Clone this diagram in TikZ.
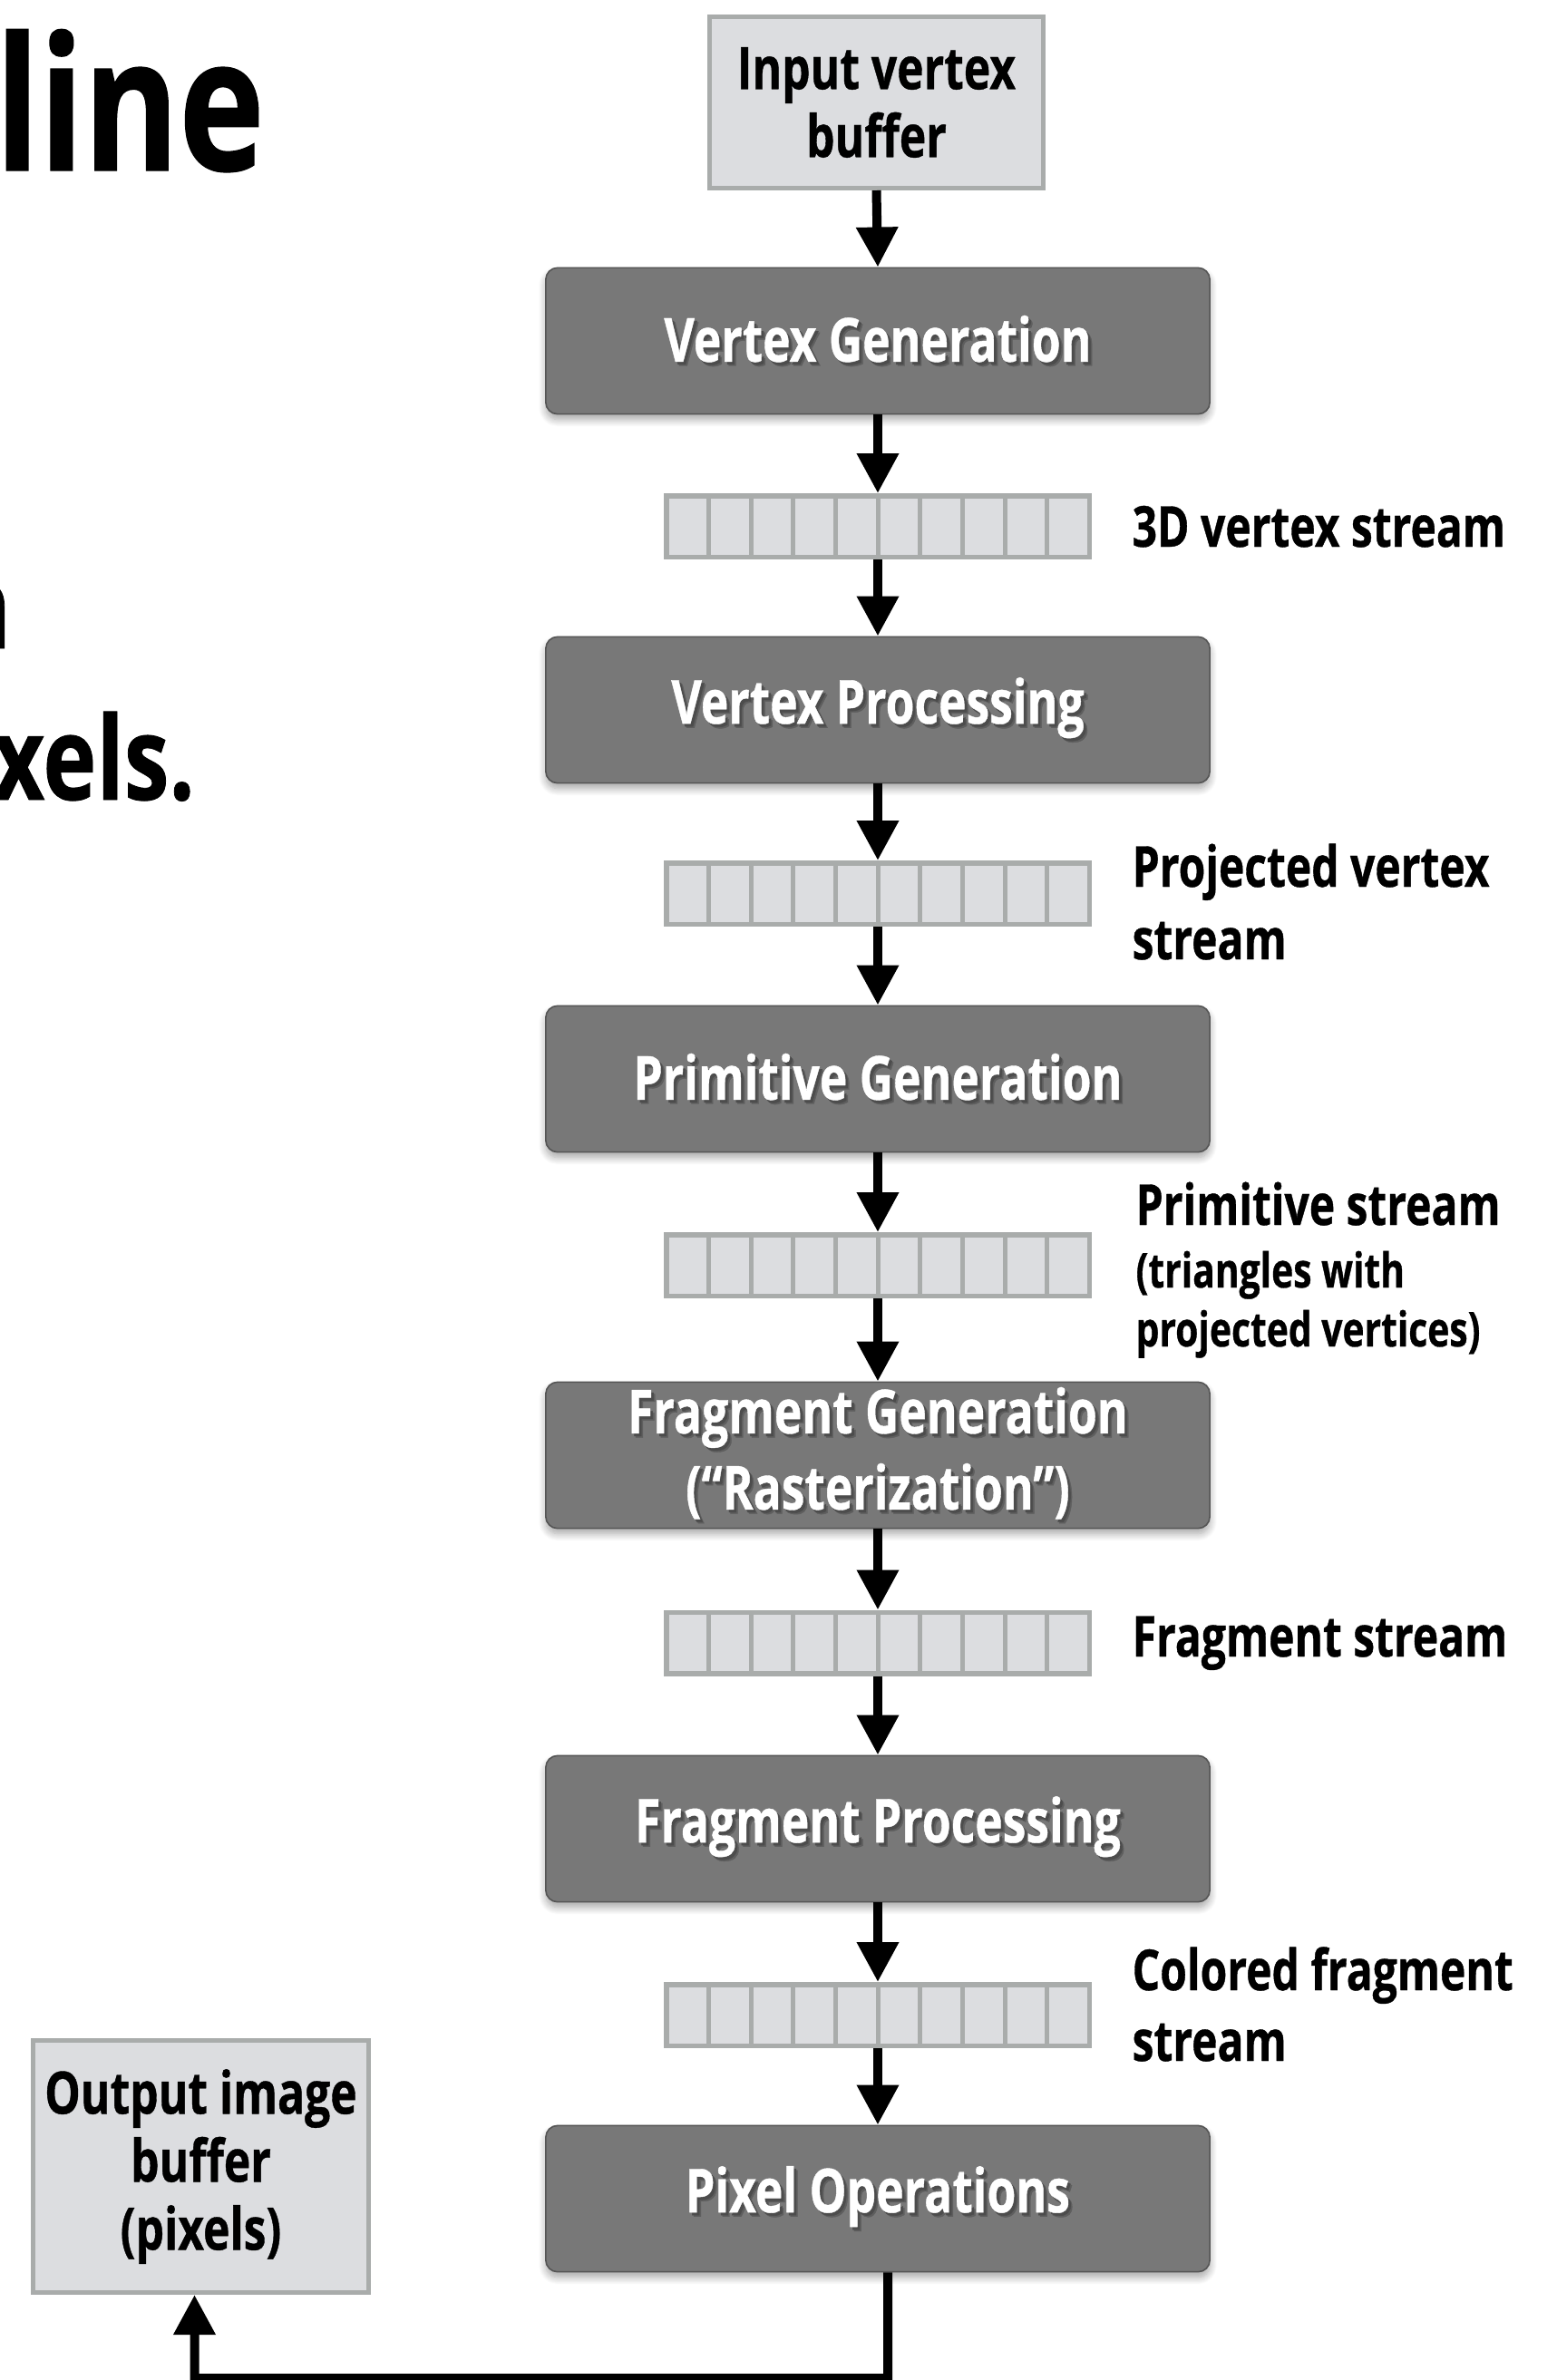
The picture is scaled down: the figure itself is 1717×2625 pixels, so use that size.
\documentclass[tikz,border=0pt]{standalone}
\usepackage{fontspec}
\setmainfont{Open Sans}[FakeStretch=0.77, BoldFeatures={FakeBold=0.6}]
\newfontfamily\bigfont{Open Sans}[FakeStretch=0.78, BoldFeatures={FakeBold=0.6}]
\usetikzlibrary{arrows.meta,shadows.blur,calc}

% one drawing unit = one pixel of the slide
\newlength\pxu
\setlength\pxu{0.3pt}

\definecolor{stagefill}{HTML}{787878}
\definecolor{stageedge}{HTML}{555555}
\definecolor{buffill}{HTML}{DCDDE0}
\definecolor{bufedge}{HTML}{A9ACAB}
\definecolor{txtshadowA}{HTML}{5E5E5E}
\definecolor{txtshadowB}{HTML}{4C4C4C}

% white stage titles sit on a soft dark drop shadow
\newcommand\shadowed[1]{%
  \makebox[0pt][l]{\hspace{1.3pt}\raisebox{-1.4pt}{\textcolor{txtshadowA}{#1}}}%
  \makebox[0pt][l]{\hspace{0.8pt}\raisebox{-0.9pt}{\textcolor{txtshadowB}{#1}}}%
  #1}

\newcommand\titlefont{\fontsize{20.1pt}{25.2pt}\selectfont\bfseries}
\newcommand\boxfont{\fontsize{19.4pt}{22.5pt}\selectfont\bfseries}
\newcommand\labelfont{\fontsize{18.7pt}{24pt}\selectfont\bfseries}
\newcommand\sublabelfont{\fontsize{15.9pt}{20pt}\selectfont\bfseries}

\begin{document}
\begin{tikzpicture}[x=\pxu, y=-\pxu,
  stage/.style={rectangle, rounded corners=3.9pt, fill=stagefill, draw=stageedge,
    line width=0.48pt, minimum width=219.7pt, minimum height=48.4pt, inner sep=0pt,
    text=white, font=\titlefont, align=center,
    blur shadow={shadow xshift=0pt, shadow yshift=-1.8pt, shadow blur radius=2.4pt,
      shadow blur steps=10, shadow opacity=35}},
  stream/.style={rectangle, fill=buffill, draw=bufedge, line width=1.65pt,
    minimum width=139.95pt, minimum height=20.25pt, inner sep=0pt,
    path picture={\foreach \k in {1,...,9}
      \draw[bufedge, line width=1.5pt]
        ([xshift=\k*14pt]path picture bounding box.north west) --
        ([xshift=\k*14pt]path picture bounding box.south west);}},
  bufbox/.style={rectangle, fill=buffill, draw=bufedge, line width=1.5pt,
    inner sep=0pt, font=\boxfont, align=center},
  label/.style={anchor=base west, inner sep=0pt, font=\labelfont},
  sublabel/.style={anchor=base west, inner sep=0pt, font=\sublabelfont},
  flow/.style={line width=3pt, -{Triangle[width=13.2pt, length=13.2pt]}},
]
\useasboundingbox (0,0) rectangle (1717,2625);

% fragments of the slide text on the left
\node[anchor=base west, inner sep=0pt, font=\bigfont\fontsize{61.5pt}{70pt}\selectfont\bfseries]
  (head) at (-6,188) {line};
\node[anchor=base west, inner sep=0pt, font=\bigfont\fontsize{38.4pt}{46pt}\selectfont\bfseries]
  (bulletA) at (-54,715) {n};
\node[anchor=base west, inner sep=0pt, font=\bigfont\fontsize{38.4pt}{46pt}\selectfont\bfseries]
  (bulletB) at (-9,882) {xels.};

% buffers at the two ends of the pipeline
\node[bufbox, minimum width=110.4pt, minimum height=56.7pt] (inbuf) at (966.5,113)
  {Input vertex\\buffer};
\node[bufbox, minimum width=111pt, minimum height=83.4pt] (outbuf) at (221.5,2389.5)
  {Output image\\buffer\\(pixels)};

% pipeline stages
\node[stage] (vg) at (968,376) {\shadowed{Vertex Generation}};
\node[stage] (vp) at (968,783) {\shadowed{Vertex Processing}};
\node[stage] (pg) at (968,1190) {\shadowed{Primitive Generation}};
\node[stage] (fg) at (968,1605) {\shadowed{Fragment Generation}\\\shadowed{(“Rasterization”)}};
\node[stage] (fp) at (968,2017) {\shadowed{Fragment Processing}};
\node[stage] (po) at (968,2425) {\shadowed{Pixel Operations}};

% streams between stages
\node[stream] (s1) at (968,580.5) {};
\node[stream] (s2) at (968,985.5) {};
\node[stream] (s3) at (968,1395.5) {};
\node[stream] (s4) at (968,1812) {};
\node[stream] (s5) at (968,2222.5) {};

% stream labels
\node[label] (l1) at (1248,603) {3D vertex stream};
\node[label] (l2a) at (1248,978) {Projected vertex};
\node[label] (l2b) at (1248,1058) {stream};
\node[label] (l3a) at (1252,1351) {Primitive stream};
\node[sublabel] (l3b) at (1252,1420) {(triangles with};
\node[sublabel] (l3c) at (1252,1485) {projected vertices)};
\node[label] (l4) at (1248,1827) {Fragment stream};
\node[label] (l5a) at (1248,2195) {Colored fragment};
\node[label] (l5b) at (1248,2273) {stream};

% data flow
\draw[flow] (inbuf.south) -- (vg.north);
\draw[flow] (vg.south) -- (s1.north);
\draw[flow] (s1.south) -- (vp.north);
\draw[flow] (vp.south) -- (s2.north);
\draw[flow] (s2.south) -- (pg.north);
\draw[flow] (pg.south) -- (s3.north);
\draw[flow] (s3.south) -- (fg.north);
\draw[flow] (fg.south) -- (s4.north);
\draw[flow] (s4.south) -- (fp.north);
\draw[flow] (fp.south) -- (s5.north);
\draw[flow] (s5.south) -- (po.north);
\draw[flow] ([xshift=3.3pt]po.south) |- ($(outbuf.south)+(-7,92)$)
  -- ([xshift=-2.1pt]outbuf.south);
\end{tikzpicture}
\end{document}
